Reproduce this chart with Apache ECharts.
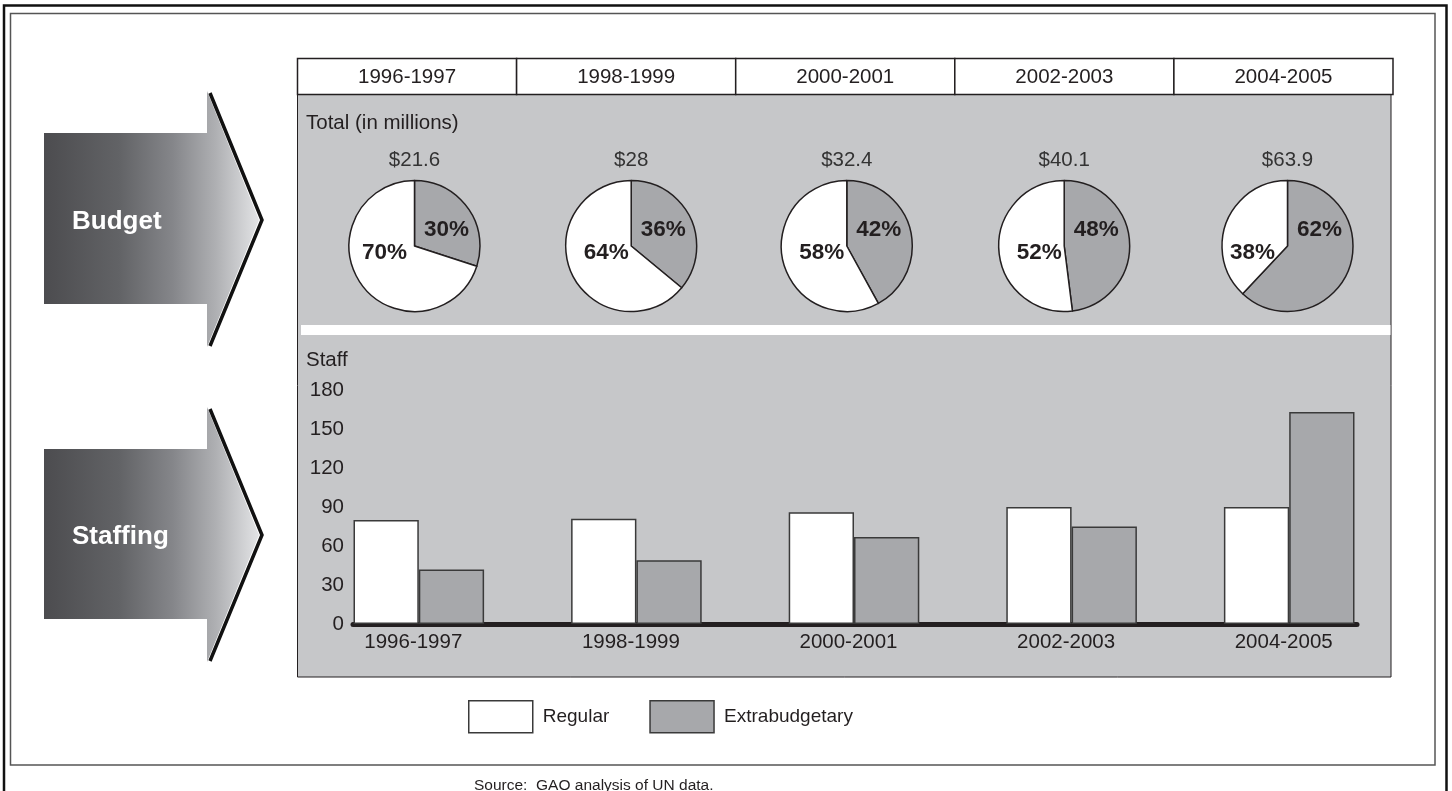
<!DOCTYPE html>
<html>
<head>
<meta charset="utf-8">
<style>
  html, body { margin: 0; padding: 0; background: #ffffff; }
  #chart { width: 1452px; height: 791px; }
</style>
<script src="https://cdn.jsdelivr.net/npm/echarts@6/dist/echarts.min.js"></script>
</head>
<body>
<div id="chart"></div>
<script>
// ---------------- DATA ----------------
const categories = ['1996-1997', '1998-1999', '2000-2001', '2002-2003', '2004-2005'];
const budgetTotals = [21.6, 28, 32.4, 40.1, 63.9];          // $ millions
const budgetExtraPct = [30, 36, 42, 48, 62];                 // Extrabudgetary share
const budgetRegularPct = [70, 64, 58, 52, 38];               // Regular share
const staffRegular = [80, 81, 86, 90, 90];
const staffExtra = [42, 49, 67, 75, 163];
const seriesNames = ['Regular', 'Extrabudgetary'];
const staffAxis = { min: 0, max: 180, interval: 30 };
const sourceText = 'Source:  GAO analysis of UN data.';

// ---------------- LAYOUT / STYLE ----------------
const FONT = "'Liberation Sans', Arial, Helvetica, sans-serif";
const INK = '#231f20';
const PANEL = '#c6c7c9';
const EXTRA = '#a7a8ab';
const REG = '#ffffff';
const BORDER = '#3a3a3a';

const pieCenterX = [414.5, 631.2, 846.8, 1064.2, 1287.5];
const pieCenterY = 246;
const pieRadius = 65.5;
const whiteLabelDx = [-30, -25, -25, -25, -35];

const headerLeft = 297.5, headerWidth = 219.1, headerTop = 58.5, headerH = 36;

const chart = echarts.init(document.getElementById('chart'), null, { renderer: 'canvas' });

function arrow(yTop, yBodyTop, yTip, yBodyBot, yBot, label) {
  const grad = new echarts.graphic.LinearGradient(0, 0, 1, 0, [
    { offset: 0, color: '#4c4c4f' },
    { offset: 0.35, color: '#626366' },
    { offset: 0.6, color: '#85868a' },
    { offset: 0.8, color: '#afb0b3' },
    { offset: 1, color: '#e3e4e6' }
  ]);
  return [
    {
      type: 'polygon',
      shape: { points: [[44, yBodyTop], [207, yBodyTop], [207, yTop], [259, yTip], [207, yBot], [207, yBodyBot], [44, yBodyBot]] },
      style: { fill: grad }
    },
    {
      type: 'polyline',
      shape: { points: [[210, yTop + 2], [262, yTip], [210, yBot - 1]] },
      style: { stroke: '#111111', lineWidth: 3.5, fill: null }
    },
    {
      type: 'text',
      x: 72, y: yTip + 2,
      style: { text: label, fill: '#ffffff', font: 'bold 26px ' + FONT, textVerticalAlign: 'middle', textAlign: 'left' }
    }
  ];
}

const graphics = [];
// outer frame (top, left, right lines) and inner frame
graphics.push({ type: 'polyline', shape: { points: [[4, 791], [4, 5.5], [1446.5, 5.5], [1446.5, 791]] }, style: { stroke: '#111', lineWidth: 2.5, fill: null } });
graphics.push({ type: 'rect', shape: { x: 10.5, y: 13.5, width: 1424.5, height: 751.5 }, style: { stroke: '#555', lineWidth: 1.5, fill: null } });
// gray panel
graphics.push({ type: 'rect', shape: { x: 297.5, y: 94, width: 1093.5, height: 583 }, style: { fill: PANEL, stroke: INK, lineWidth: 1 } });
// white separator band
graphics.push({ type: 'rect', shape: { x: 301, y: 325, width: 1089.5, height: 10 }, style: { fill: '#ffffff' } });
// header cells
categories.forEach(function (c, i) {
  graphics.push({ type: 'rect', shape: { x: headerLeft + i * headerWidth, y: headerTop, width: headerWidth, height: headerH }, style: { fill: '#fff', stroke: INK, lineWidth: 1.5 } });
  graphics.push({ type: 'text', x: headerLeft + (i + 0.5) * headerWidth, y: headerTop + headerH / 2 + 1, style: { text: c, fill: INK, font: '20.5px ' + FONT, textAlign: 'center', textVerticalAlign: 'middle' } });
});
// section titles
graphics.push({ type: 'text', x: 306, y: 123.5, style: { text: 'Total (in millions)', fill: INK, font: '20.5px ' + FONT, textVerticalAlign: 'middle' } });
graphics.push({ type: 'text', x: 306, y: 360, style: { text: 'Staff', fill: INK, font: '20.5px ' + FONT, textVerticalAlign: 'middle' } });
// totals above pies
budgetTotals.forEach(function (t, i) {
  graphics.push({ type: 'text', x: pieCenterX[i], y: 160.5, style: { text: '$' + t, fill: '#333', font: '20.5px ' + FONT, textAlign: 'center', textVerticalAlign: 'middle' } });
});
// arrows
Array.prototype.push.apply(graphics, arrow(91, 133, 220, 304, 347, 'Budget'));
Array.prototype.push.apply(graphics, arrow(407, 449, 535, 619, 662, 'Staffing'));
// source
graphics.push({ type: 'text', x: 474, y: 786, style: { text: sourceText, fill: INK, font: '15.5px ' + FONT, textVerticalAlign: 'middle' } });

const series = [];
categories.forEach(function (c, i) {
  series.push({
    type: 'pie',
    name: 'Budget ' + c,
    center: [pieCenterX[i], pieCenterY],
    radius: pieRadius,
    startAngle: 90,
    clockwise: true,
    silent: true,
    emphasis: { disabled: true },
    itemStyle: { borderColor: INK, borderWidth: 1.5 },
    label: {
      show: true, position: 'center', formatter: '{c}%',
      fontFamily: FONT, fontWeight: 'bold', fontSize: 22.5, color: INK
    },
    labelLine: { show: false },
    labelLayout: function (p) {
      return p.dataIndex === 0 ? { dx: 32, dy: -16 } : { dx: whiteLabelDx[i], dy: 7 };
    },
    data: [
      { name: 'Extrabudgetary', value: budgetExtraPct[i], itemStyle: { color: EXTRA } },
      { name: 'Regular', value: budgetRegularPct[i], itemStyle: { color: REG } }
    ]
  });
});

series.push({
  type: 'bar', name: seriesNames[0], xAxisIndex: 0, yAxisIndex: 0,
  barWidth: 65.3, barGap: '0%', silent: true,
  itemStyle: { color: REG, borderColor: BORDER, borderWidth: 1.5 },
  data: staffRegular
});
series.push({
  type: 'bar', name: seriesNames[1], xAxisIndex: 0, yAxisIndex: 0,
  barWidth: 65.3, barGap: '0%', silent: true,
  itemStyle: { color: EXTRA, borderColor: BORDER, borderWidth: 1.5 },
  data: staffExtra
});

const option = {
  animation: false,
  backgroundColor: '#ffffff',
  textStyle: { fontFamily: FONT },
  graphic: { elements: graphics },
  legend: {
    data: seriesNames,
    left: 468, top: 700,
    padding: 0,
    icon: 'rect',
    itemWidth: 64, itemHeight: 32, itemGap: 40,
    itemStyle: { borderColor: BORDER, borderWidth: 1.5 },
    textStyle: { fontFamily: FONT, fontSize: 19, color: INK, padding: [0, 0, 0, 5] },
    selectedMode: false
  },
  grid: [
    { left: 310, right: 54, top: 390, bottom: 167 },
    { left: 353, right: 95, top: 390, bottom: 167 }
  ],
  xAxis: [
    {
      type: 'category', gridIndex: 0, data: categories,
      axisLine: { show: false }, axisTick: { show: false },
      axisLabel: { color: INK, fontSize: 20.5, fontFamily: FONT, margin: 8, padding: [0, 11, 0, 0] }
    },
    {
      type: 'category', gridIndex: 1, data: [''],
      offset: 2.5,
      axisLine: { show: true, lineStyle: { color: INK, width: 5 } },
      axisTick: { show: false }, axisLabel: { show: false }
    }
  ],
  yAxis: [
    {
      type: 'value', gridIndex: 0, min: staffAxis.min, max: staffAxis.max, interval: staffAxis.interval,
      axisLine: { show: false }, axisTick: { show: false }, axisLabel: { show: false }, splitLine: { show: false }
    },
    {
      type: 'value', gridIndex: 1, min: staffAxis.min, max: staffAxis.max, interval: staffAxis.interval,
      axisLine: { show: false }, axisTick: { show: false }, splitLine: { show: false },
      axisLabel: { color: INK, fontSize: 20.5, fontFamily: FONT, margin: 9 }
    }
  ],
  series: series
};

chart.setOption(option);
</script>
</body>
</html>
